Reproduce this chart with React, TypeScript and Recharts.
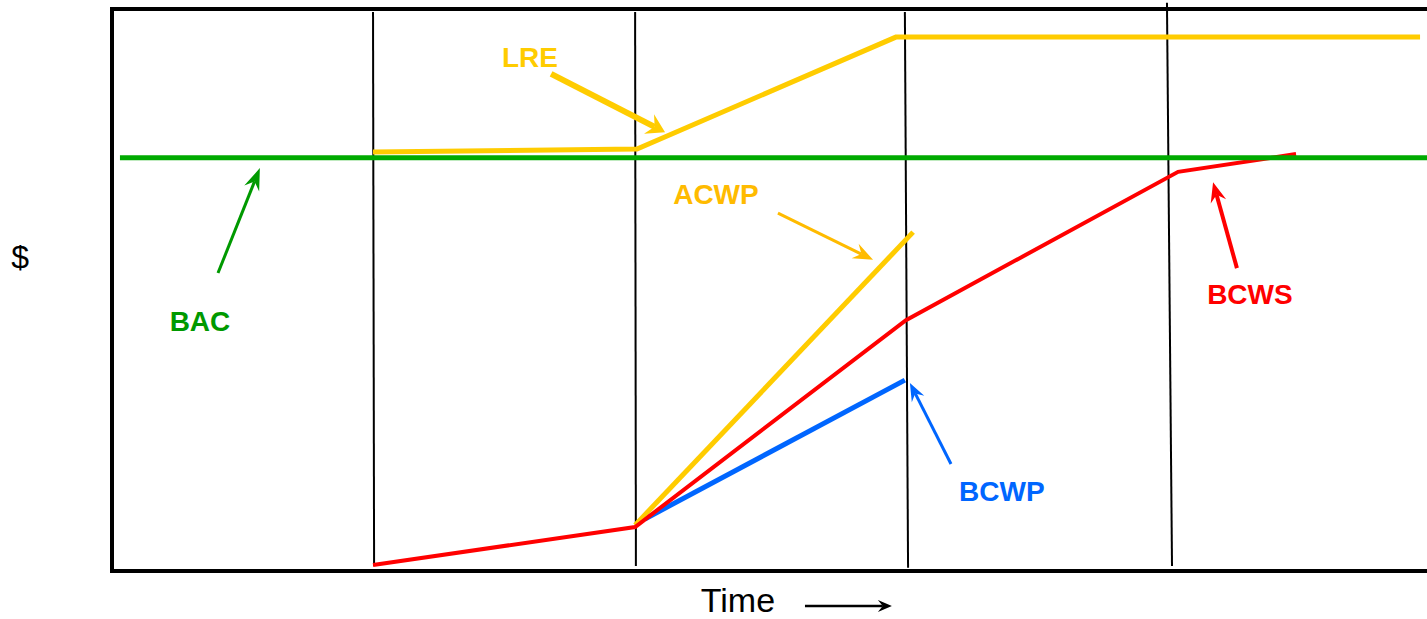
import { LineChart, Line, XAxis, YAxis, ReferenceLine, ReferenceArea, ReferenceDot } from 'recharts';

// time runs 0..5 (period ticks at ~1,2,3,4), dollars 0..136 with BAC = 100
const bac = [
  { x: 0.03, y: 100 },
  { x: 4.97, y: 100 },
];
const lre = [
  { x: 0.985, y: 101.4 },
  { x: 1.981, y: 102.1 },
  { x: 2.958, y: 129.2 },
  { x: 4.936, y: 129.2 },
];
const bcws = [
  { x: 0.985, y: 1.45 },
  { x: 1.974, y: 10.65 },
  { x: 2.996, y: 60.7 },
  { x: 4.023, y: 96.6 },
  { x: 4.468, y: 100.9 },
];
const bcwp = [
  { x: 2.011, y: 12.6 },
  { x: 2.992, y: 46.2 },
];
const acwp = [
  { x: 1.974, y: 11.1 },
  { x: 3.023, y: 82.0 },
];

// hand-drawn period dividers (top point, bottom point)
const dividers = [
  [{ x: 0.985, y: 135.3 }, { x: 0.989, y: 1.2 }],
  [{ x: 1.974, y: 135.3 }, { x: 1.977, y: 1.2 }],
  [{ x: 2.992, y: 135.3 }, { x: 3.004, y: 0.8 }],
  [{ x: 3.981, y: 137.5 }, { x: 4.0, y: 1.2 }],
];

// annotation arrows: tail -> tip
const arrows = [
  { from: { x: 1.657, y: 120.3 }, to: { x: 2.087, y: 106.2 }, color: '#ffcc00', w: 6, head: 18, half: 11 },
  { from: { x: 0.4, y: 72.1 }, to: { x: 0.558, y: 97.5 }, color: '#009900', w: 3, head: 22, half: 8 },
  { from: { x: 2.513, y: 86.6 }, to: { x: 2.872, y: 75.3 }, color: '#ffbb00', w: 3, head: 20, half: 8 },
  { from: { x: 3.166, y: 25.9 }, to: { x: 3.011, y: 45.5 }, color: '#0066ff', w: 3, head: 18, half: 7 },
  { from: { x: 4.245, y: 73.3 }, to: { x: 4.155, y: 94.1 }, color: '#ff0000', w: 4, head: 20, half: 8 },
  { from: { x: 2.615, y: -8.47 }, to: { x: 2.943, y: -8.47 }, color: '#000000', w: 2.5, head: 14, half: 6 },
];

const labels = [
  { text: 'LRE', x: 1.577, y: 124.4, color: '#ffcc00', size: 28, bold: true },
  { text: 'ACWP', x: 2.279, y: 91.2, color: '#ffbb00', size: 28, bold: true },
  { text: 'BAC', x: 0.332, y: 60.5, color: '#009900', size: 28, bold: true },
  { text: 'BCWP', x: 3.358, y: 19.4, color: '#0066ff', size: 28, bold: true },
  { text: 'BCWS', x: 4.294, y: 67.0, color: '#ff0000', size: 28, bold: true },
  { text: '$', x: -0.347, y: 76.0, color: '#000000', size: 32, bold: false },
  { text: 'Time', x: 2.362, y: -7.0, color: '#000000', size: 34, bold: false },
];

const font = '"Liberation Sans", Arial, sans-serif';

const arrowShape = (color: string, w: number, head: number, half: number) => (p: any) => {
  const { x1, y1, x2, y2 } = p;
  const dx = x2 - x1;
  const dy = y2 - y1;
  const len = Math.hypot(dx, dy) || 1;
  const ux = dx / len;
  const uy = dy / len;
  const nx = -uy;
  const ny = ux;
  const bx = x2 - ux * head;
  const by = y2 - uy * head;
  const notch = head * 0.65;
  const pts = [
    [x2, y2],
    [bx + nx * half, by + ny * half],
    [x2 - ux * notch, y2 - uy * notch],
    [bx - nx * half, by - ny * half],
  ]
    .map((q) => q.join(','))
    .join(' ');
  return (
    <g>
      <line x1={x1} y1={y1} x2={x2 - ux * notch} y2={y2 - uy * notch} stroke={color} strokeWidth={w} />
      <polygon points={pts} fill={color} />
    </g>
  );
};

export default function App() {
  return (
    <div style={{ position: 'absolute', left: 0, top: 0, width: 1427, height: 619, overflow: 'hidden', background: '#fff' }}>
      <LineChart width={1447} height={619} margin={{ top: 9, right: 10, bottom: 48, left: 112 }}>
        <XAxis type="number" dataKey="x" domain={[0, 5]} hide allowDataOverflow />
        <YAxis type="number" dataKey="y" domain={[0, 136]} hide allowDataOverflow />
        {dividers.map((seg, i) => (
          <ReferenceLine key={'d' + i} segment={seg} stroke="#000" strokeWidth={2} ifOverflow="visible" />
        ))}
        <Line data={bcwp} dataKey="y" stroke="#0066ff" strokeWidth={5} dot={false} isAnimationActive={false} />
        <Line data={acwp} dataKey="y" stroke="#ffcc00" strokeWidth={5} dot={false} isAnimationActive={false} />
        <Line data={bcws} dataKey="y" stroke="#ff0000" strokeWidth={4} dot={false} isAnimationActive={false} />
        <Line data={lre} dataKey="y" stroke="#ffcc00" strokeWidth={5} dot={false} isAnimationActive={false} />
        <Line data={bac} dataKey="y" stroke="#00aa00" strokeWidth={5} dot={false} isAnimationActive={false} />
        <ReferenceArea x1={0} x2={5} y1={0} y2={136} fill="none" fillOpacity={0} stroke="#000" strokeWidth={4} ifOverflow="visible" />
        {arrows.map((a, i) => (
          <ReferenceLine
            key={'a' + i}
            segment={[a.from, a.to]}
            ifOverflow="visible"
            shape={arrowShape(a.color, a.w, a.head, a.half)}
          />
        ))}
        {labels.map((l) => (
          <ReferenceDot
            key={l.text}
            x={l.x}
            y={l.y}
            r={0}
            stroke="none"
            fill="none"
            ifOverflow="visible"
            label={{
              value: l.text,
              position: 'center',
              fill: l.color,
              fontSize: l.size,
              fontWeight: l.bold ? 700 : 400,
              fontFamily: font,
            }}
          />
        ))}
      </LineChart>
    </div>
  );
}
